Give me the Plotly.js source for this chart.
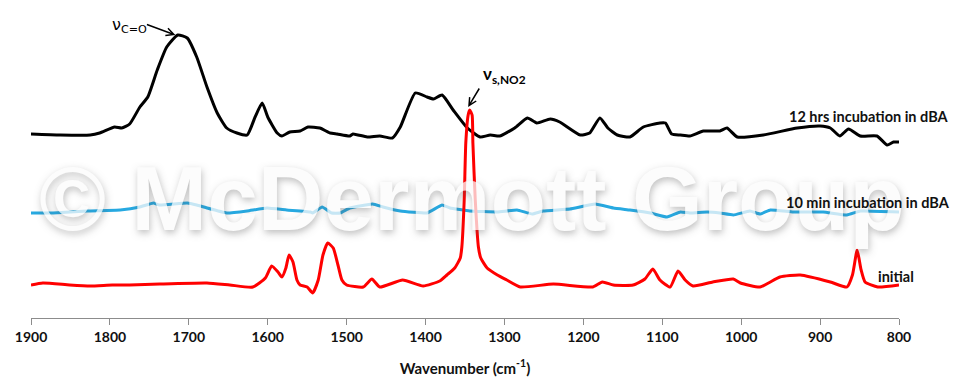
<!DOCTYPE html>
<html>
<head>
<meta charset="utf-8">
<script src="https://cdn.plot.ly/plotly-3.0.1.min.js"></script>
<style>html,body{margin:0;padding:0;background:#fff;}#chart{width:970px;height:385px;}</style>
</head>
<body>
<div id="chart"></div>
<script>
// Wavenumber (cm-1) and offset absorbance (a.u.)
const wn12h = [1900,1863,1825,1813,1794,1785,1775,1762,1752,1740,1728,1714,1702,1690,1677,1664,1652,1639,1626,1616,1607,1600,1588,1582,1572,1559,1549,1534,1521,1512,1496,1492,1474,1458,1442,1432,1413,1398,1390,1379,1365,1347,1331,1318,1306,1287,1271,1259,1242,1230,1204,1192,1179,1169,1157,1141,1124,1103,1096,1088,1077,1065,1048,1027,1018,1005,972,929,900,887,875,864,849,828,815,807,800];
const abs12h = [1.84,1.83,1.83,1.85,1.91,1.90,1.94,2.11,2.21,2.48,2.71,2.83,2.80,2.61,2.31,2.05,1.90,1.85,1.83,2.01,2.15,2.01,1.85,1.82,1.86,1.87,1.91,1.90,1.85,1.84,1.82,1.84,1.81,1.82,1.80,1.91,2.25,2.21,2.19,2.23,2.08,1.90,1.81,1.83,1.82,1.90,2.00,1.95,1.99,1.96,1.83,1.85,2.00,1.90,1.83,1.81,1.91,1.95,1.95,1.84,1.83,1.82,1.87,1.87,1.90,1.81,1.83,1.90,1.92,1.90,1.82,1.89,1.82,1.82,1.73,1.76,1.76];

const wn10m = [1900,1872,1829,1787,1762,1745,1737,1702,1690,1677,1652,1626,1601,1576,1546,1543,1531,1519,1508,1496,1467,1454,1432,1398,1379,1369,1344,1309,1284,1265,1251,1217,1185,1162,1141,1115,1094,1077,1065,1043,1027,1010,989,976,963,934,896,866,849,800];
const abs10m = [1.05,1.05,1.07,1.08,1.11,1.15,1.13,1.15,1.13,1.10,1.05,1.07,1.10,1.08,1.06,1.05,1.11,1.05,1.05,1.10,1.14,1.11,1.07,1.05,1.13,1.10,1.07,1.06,1.08,1.04,1.07,1.09,1.14,1.10,1.08,1.05,1.01,1.06,1.05,1.06,1.05,1.03,1.07,1.04,1.08,1.06,1.06,1.03,1.07,1.06];

const wnInit = [1900,1885,1851,1825,1797,1775,1737,1677,1648,1619,1603,1595,1587,1582,1577,1573,1568,1563,1559,1550,1543,1536,1530,1524,1517,1511,1506,1500,1479,1468,1458,1429,1403,1382,1373,1363,1356,1354,1351,1349,1346,1344,1341,1340,1337,1333,1330,1322,1309,1297,1280,1238,1188,1176,1162,1137,1122,1112,1103,1090,1080,1071,1061,1036,1010,1001,976,951,925,887,866,859,853,848,843,827,800];
const absInit = [0.33,0.35,0.33,0.32,0.33,0.33,0.34,0.35,0.33,0.31,0.40,0.52,0.46,0.41,0.50,0.63,0.56,0.38,0.33,0.31,0.25,0.38,0.63,0.75,0.70,0.53,0.38,0.33,0.31,0.39,0.31,0.38,0.32,0.37,0.43,0.50,0.60,0.71,1.18,1.75,2.03,2.08,2.03,1.75,1.18,0.71,0.60,0.50,0.43,0.38,0.31,0.34,0.31,0.36,0.33,0.33,0.39,0.49,0.38,0.31,0.47,0.38,0.32,0.36,0.39,0.35,0.31,0.41,0.43,0.36,0.31,0.43,0.68,0.48,0.36,0.31,0.33];

const seriesNames = ["12 hrs incubation in dBA", "10 min incubation in dBA", "initial"];
const xTicks = [1900,1800,1700,1600,1500,1400,1300,1200,1100,1000,900,800];

const lbl = {family: "Lato, 'Open Sans', sans-serif", size: 14.5, color: "#111", weight: 700};

const traces = [
  {x: wn12h, y: abs12h, name: seriesNames[0], mode: "lines", line: {color: "#000000", width: 3, shape: "spline", smoothing: 0.5}},
  {x: wn10m, y: abs10m, name: seriesNames[1], mode: "lines", line: {color: "#27a9e1", width: 3, shape: "spline", smoothing: 0.3}},
  {x: wnInit, y: absInit, name: seriesNames[2], mode: "lines", line: {color: "#ff0000", width: 3, shape: "spline", smoothing: 0.5}}
];

const layout = {
  width: 970, height: 385,
  margin: {l: 31, r: 71, t: 20, b: 67},
  paper_bgcolor: "#ffffff", plot_bgcolor: "#ffffff",
  showlegend: false,
  xaxis: {
    range: [1900, 800], tickvals: xTicks, ticktext: xTicks.map(String),
    showgrid: false, zeroline: false, showline: true, linecolor: "#8c8c8c", linewidth: 1,
    ticks: "outside", ticklen: 6, tickcolor: "#8c8c8c",
    tickfont: {family: "Lato, 'Open Sans', sans-serif", size: 14, color: "#111", weight: 700},
    title: {text: "Wavenumber (cm<sup>-1</sup>)", standoff: 19, font: {family: "Lato, 'Open Sans', sans-serif", size: 15, color: "#111", weight: 700}}
  },
  yaxis: {range: [0, 2.98], visible: false, showgrid: false, zeroline: false},
  annotations: [
    {xref: "paper", yref: "paper", x: 0.508, y: 0.40, text: "© McDermott Group", showarrow: false,
     font: {family: "Arial, 'Liberation Sans', sans-serif", size: 91, color: "#fbfbfb", weight: 700, shadow: "1px 3px 7px rgba(90,90,90,0.5)"},
     opacity: 0.75},
    {x: 1800, y: 2.93, xanchor: "left", yanchor: "middle", text: "ν<sub>C=O</sub>", showarrow: false,
     font: {family: "DejaVu Sans, sans-serif", size: 16, color: "#000"}},
    {x: 1717, y: 2.83, text: "", showarrow: true, ax: -30, ay: -11, arrowhead: 5, arrowsize: 1, arrowwidth: 1.5, arrowcolor: "#000", standoff: 0},
    {x: 1330, y: 2.43, xanchor: "left", yanchor: "middle", text: "<b>ν<sub>s,NO2</sub></b>", showarrow: false,
     font: {family: "Lato, 'Open Sans', sans-serif", size: 17, color: "#000"}},
    {x: 1346, y: 2.11, text: "", showarrow: true, ax: 12, ay: -20, arrowhead: 5, arrowsize: 1, arrowwidth: 1.5, arrowcolor: "#000", standoff: 0},
    {xref: "paper", x: 1.06, y: 2.02, xanchor: "right", yanchor: "middle", text: seriesNames[0], showarrow: false, font: lbl},
    {xref: "paper", x: 1.061, y: 1.16, xanchor: "right", yanchor: "middle", text: seriesNames[1], showarrow: false, font: lbl},
    {xref: "paper", x: 0.974, y: 0.42, xanchor: "left", yanchor: "middle", text: seriesNames[2], showarrow: false, font: lbl}
  ]
};

Plotly.newPlot("chart", traces, layout, {staticPlot: true, displayModeBar: false});
</script>
</body>
</html>
